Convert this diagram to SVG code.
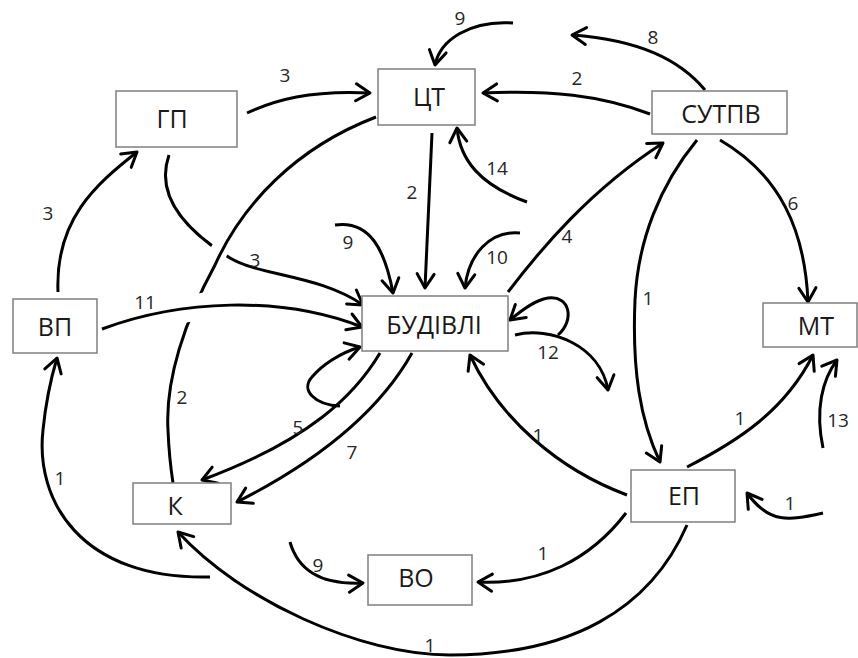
<svg xmlns="http://www.w3.org/2000/svg" width="858" height="658" viewBox="0 0 858 658">
<style>
.box{fill:#fff;stroke:#7f7f7f;stroke-width:1.5}
.nt{font-family:"Open Sans","Noto Sans",sans-serif;font-size:25px;fill:#1a1a1a;text-anchor:middle}
.num{font-family:"Open Sans","Noto Sans",sans-serif;font-size:19px;fill:#262626;text-anchor:middle}
.e{fill:none;stroke:#000;stroke-width:3;stroke-linecap:butt}
.ea{fill:none;stroke:#000;stroke-width:3;marker-end:url(#ah)}
.halo{fill:none;stroke:#fff;stroke-linecap:butt}
</style>
<defs>
<marker id="ah" markerUnits="userSpaceOnUse" orient="auto" refX="0" refY="0" markerWidth="20" markerHeight="20" viewBox="-17 -10 19 20" overflow="visible">
<path d="M-14,-8.5 L0,0 L-14,8.5" fill="none" stroke="#000" stroke-width="3" stroke-linecap="round" stroke-linejoin="round"/>
</marker>
</defs>
<rect width="858" height="658" fill="#fff"/>
<g id="connectors">
<path class="ea" d="M247,113 C275,100 310,90 370,93"/>
<path class="ea" d="M513,23 C470,20 440,40 435,65"/>
<path class="ea" d="M650,114 C600,95 550,90 483,93"/>
<path class="ea" d="M705,90 C680,60 640,40 572,35"/>
<path class="ea" d="M432,133 L425,288"/>
<path class="ea" d="M527,202 C480,185 460,160 457,128"/>
<path class="ea" d="M508,292 C540,250 590,190 663,143"/>
<path class="ea" d="M697,140 C660,185 638,240 635,300 C632,370 640,420 660,462"/>
<path class="ea" d="M720,140 C780,175 805,230 808,302"/>
<path class="ea" d="M169,155 C155,195 185,230 230,258 C260,276 320,275 363,305"/>
<path class="halo" stroke-width="18" d="M231,230 L205,276"/>
<path class="e" d="M376,117 C295,148 242,205 215,265 C185,320 165,380 168,430 C169,455 171,470 173,483"/>
<path class="ea" d="M58,292 C55,220 95,185 137,152"/>
<path class="halo" stroke-width="26" d="M183,310 L212,304"/>
<path class="ea" d="M102,329 C180,300 280,295 362,327"/>
<path class="ea" d="M335,225 C370,220 385,250 393,293"/>
<path class="ea" d="M520,233 C490,230 468,255 465,288"/>
<path class="ea" d="M515,335 C550,326 600,345 608,390"/>
<path class="ea" d="M558,335 C575,320 570,295 548,298 C535,300 522,310 510,320"/>
<path class="ea" d="M627,495 C560,470 500,420 470,355"/>
<path class="ea" d="M380,353 C355,395 310,440 202,480"/>
<path class="ea" d="M340,406 C315,405 300,390 312,377 C322,365 340,353 360,347"/>
<path class="ea" d="M412,353 C380,410 320,460 237,502"/>
<path class="ea" d="M210,577 C80,580 35,500 43,430 C46,400 51,378 57,358"/>
<path class="ea" d="M687,525 C650,610 570,655 450,655 C360,655 240,600 178,532"/>
<path class="ea" d="M290,542 C298,570 320,585 363,583"/>
<path class="ea" d="M626,513 C590,560 540,585 478,582"/>
<path class="ea" d="M687,467 C740,440 785,410 813,355"/>
<path class="ea" d="M823,448 C815,410 822,380 837,360"/>
<path class="ea" d="M823,513 C790,520 770,525 747,493"/>
</g>
<g id="labels">
<text class="num" x="285" y="82">3</text>
<text class="num" x="460" y="25">9</text>
<text class="num" x="653" y="44">8</text>
<text class="num" x="577" y="85">2</text>
<text class="num" x="412" y="199">2</text>
<text class="num" x="497" y="175">14</text>
<text class="num" x="567" y="243">4</text>
<text class="num" x="793" y="210">6</text>
<text class="num" x="648" y="305">1</text>
<text class="num" x="48" y="220">3</text>
<text class="num" x="255" y="267">3</text>
<text class="num" x="145" y="309">11</text>
<text class="num" x="348" y="249">9</text>
<text class="num" x="497" y="264">10</text>
<text class="num" x="548" y="359">12</text>
<text class="num" x="182" y="404">2</text>
<text class="num" x="538" y="442">1</text>
<text class="num" x="298" y="434">5</text>
<text class="num" x="352" y="459">7</text>
<text class="num" x="60" y="485">1</text>
<text class="num" x="740" y="425">1</text>
<text class="num" x="838" y="427">13</text>
<text class="num" x="790" y="510">1</text>
<text class="num" x="543" y="560">1</text>
<text class="num" x="318" y="572">9</text>
<text class="num" x="430" y="652">1</text>
</g>
<g id="n-GP"><rect class="box" x="116" y="91" width="121" height="56"/><text class="nt" x="172" y="128">ГП</text></g>
<g id="n-CT"><rect class="box" x="378" y="69" width="97" height="56"/><text class="nt" x="429" y="106">ЦТ</text></g>
<g id="n-SUTPV"><rect class="box" x="652" y="91" width="135" height="43"/><text class="nt" x="721" y="123">СУТПВ</text></g>
<g id="n-MT"><rect class="box" x="763" y="303" width="94" height="44"/><text class="nt" x="816" y="335">МТ</text></g>
<g id="n-VP"><rect class="box" x="13" y="299" width="84" height="54"/><text class="nt" x="55" y="336">ВП</text></g>
<g id="n-BUD"><rect class="box" x="362" y="296" width="146" height="55"/><text class="nt" x="434" y="334">БУДІВЛІ</text></g>
<g id="n-K"><rect class="box" x="133" y="483" width="98" height="41"/><text class="nt" x="175" y="515">К</text></g>
<g id="n-VO"><rect class="box" x="368" y="555" width="104" height="50"/><text class="nt" x="416" y="587">ВО</text></g>
<g id="n-EP"><rect class="box" x="631" y="470" width="104" height="52"/><text class="nt" x="684" y="505">ЕП</text></g>
</svg>
